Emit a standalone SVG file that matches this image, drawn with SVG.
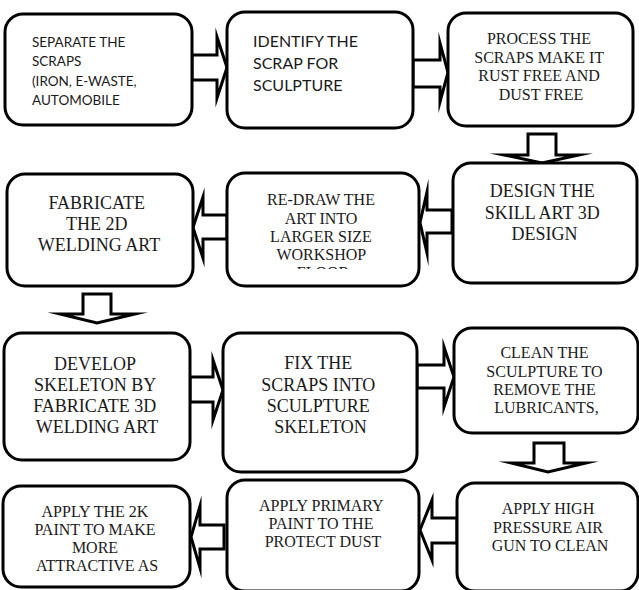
<svg xmlns="http://www.w3.org/2000/svg" width="639" height="590" viewBox="0 0 639 590">
  <style>
    .box { fill: #ffffff; stroke: #000000; stroke-width: 3; }
    .arrow { fill: #ffffff; stroke: #000000; stroke-width: 3; stroke-linejoin: miter; stroke-miterlimit: 20; }
    .sans { font-family: "Lato", "Liberation Sans", sans-serif; fill: #1a1a1a; }
    .serif { font-family: "Liberation Serif", "Times New Roman", serif; fill: #1a1a1a; text-anchor: middle; }
  </style>
  <defs>
    <!-- last line of the re-draw step is cut off by the box -->
    <clipPath id="redrawClip">
      <rect x="227" y="173" width="192" height="96"/>
    </clipPath>
  </defs>

  <rect width="639" height="590" fill="#ffffff"/>

  <!-- block arrows between steps -->
  <g id="connectors">
    <polygon class="arrow" points="192,55 217,55 217,37 227,67.5 217,98 217,80 192,80"/>
    <polygon class="arrow" points="413,60 440,60 440,43 448,72.5 440,102 440,87 413,87"/>
    <polygon class="arrow" points="528,134 556,134 556,155 579,155 542,163 504,155 528,155"/>
    <polygon class="arrow" points="452,210 427,210 427,192 420,222.5 427,253 427,233 452,233"/>
    <polygon class="arrow" points="227,215 203,215 203,197 193,227.5 203,258 203,239 227,239"/>
    <polygon class="arrow" points="83,294 111,294 111,314 135,314 97,323 60,314 83,314"/>
    <polygon class="arrow" points="190,377 213,377 213,360 223,390 213,420 213,402 190,402"/>
    <polygon class="arrow" points="417,365 444,365 444,347 454,377 444,407 444,388 417,388"/>
    <polygon class="arrow" points="534,443 564,443 564,463 586,463 548,472 511,463 534,463"/>
    <polygon class="arrow" points="457,518 432,518 432,500 420,530 432,560 432,543 457,543"/>
    <polygon class="arrow" points="224,525 200,525 200,506 191,537 200,568 200,549 224,549"/>
  </g>

  <g id="separate">
    <rect class="box" x="5" y="14" width="187" height="111" rx="18"/>
    <text class="sans" font-size="13.5">
      <tspan x="32" y="47">SEPARATE THE</tspan>
      <tspan x="32" y="66">SCRAPS</tspan>
      <tspan x="32" y="85.5">(IRON, E-WASTE,</tspan>
      <tspan x="32" y="105">AUTOMOBILE</tspan>
    </text>
  </g>

  <g id="identify">
    <rect class="box" x="227" y="12" width="186" height="116" rx="18"/>
    <text class="sans" font-size="16">
      <tspan x="253" y="47">IDENTIFY THE</tspan>
      <tspan x="253" y="69">SCRAP FOR</tspan>
      <tspan x="253" y="91">SCULPTURE</tspan>
    </text>
  </g>

  <g id="process">
    <rect class="box" x="448" y="13" width="185" height="113" rx="18"/>
    <text class="serif" font-size="16">
      <tspan x="541" y="44">PROCESS THE</tspan>
      <tspan x="541" y="62.5">SCRAPS MAKE IT</tspan>
      <tspan x="541" y="81">RUST FREE AND</tspan>
      <tspan x="541" y="99.5">DUST FREE</tspan>
    </text>
  </g>

  <g id="design">
    <rect class="box" x="453" y="163" width="184" height="120" rx="18"/>
    <text class="serif" font-size="18">
      <tspan x="544.5" y="197">DESIGN THE</tspan>
      <tspan x="544.5" y="218.5">SKILL ART 3D</tspan>
      <tspan x="544.5" y="240">DESIGN</tspan>
    </text>
  </g>

  <g id="redraw">
    <rect class="box" x="227" y="173" width="192" height="113" rx="18"/>
    <text class="serif" font-size="16" clip-path="url(#redrawClip)">
      <tspan x="323" y="205">RE-DRAW THE</tspan>
      <tspan x="323" y="223.5">ART INTO</tspan>
      <tspan x="323" y="242">LARGER SIZE</tspan>
      <tspan x="323" y="260">WORKSHOP</tspan>
      <tspan x="323" y="278">FLOOR</tspan>
    </text>
  </g>

  <g id="fabricate2d">
    <rect class="box" x="7" y="174" width="186" height="112" rx="18"/>
    <text class="serif" font-size="18">
      <tspan x="99" y="209">FABRICATE</tspan>
      <tspan x="99" y="230">THE 2D</tspan>
      <tspan x="99" y="251">WELDING ART</tspan>
    </text>
  </g>

  <g id="develop">
    <rect class="box" x="4" y="333" width="186" height="127" rx="18"/>
    <text class="serif" font-size="18">
      <tspan x="97" y="370">DEVELOP</tspan>
      <tspan x="97" y="391">SKELETON BY</tspan>
      <tspan x="97" y="412">FABRICATE 3D</tspan>
      <tspan x="97" y="433">WELDING ART</tspan>
    </text>
  </g>

  <g id="fix">
    <rect class="box" x="223" y="333" width="194" height="139" rx="18"/>
    <text class="serif" font-size="18">
      <tspan x="320.5" y="369">FIX THE</tspan>
      <tspan x="320.5" y="390.5">SCRAPS INTO</tspan>
      <tspan x="320.5" y="412">SCULPTURE</tspan>
      <tspan x="320.5" y="433">SKELETON</tspan>
    </text>
  </g>

  <g id="clean">
    <rect class="box" x="454" y="328" width="184" height="105" rx="18"/>
    <text class="serif" font-size="16">
      <tspan x="546.5" y="358">CLEAN THE</tspan>
      <tspan x="546.5" y="376.5">SCULPTURE TO</tspan>
      <tspan x="546.5" y="395">REMOVE THE</tspan>
      <tspan x="546.5" y="413">LUBRICANTS,</tspan>
    </text>
  </g>

  <g id="airgun">
    <rect class="box" x="457" y="483" width="181" height="108" rx="18"/>
    <text class="serif" font-size="16">
      <tspan x="550" y="514">APPLY HIGH</tspan>
      <tspan x="550" y="532.5">PRESSURE AIR</tspan>
      <tspan x="550" y="551">GUN TO CLEAN</tspan>
    </text>
  </g>

  <g id="primary">
    <rect class="box" x="227" y="480" width="192" height="111" rx="18"/>
    <text class="serif" font-size="16">
      <tspan x="323" y="511">APPLY PRIMARY</tspan>
      <tspan x="323" y="529">PAINT TO THE</tspan>
      <tspan x="323" y="547">PROTECT DUST</tspan>
    </text>
  </g>

  <g id="paint2k">
    <rect class="box" x="3" y="486" width="187" height="101" rx="18"/>
    <text class="serif" font-size="16">
      <tspan x="97" y="517">APPLY THE 2K</tspan>
      <tspan x="97" y="535">PAINT TO MAKE</tspan>
      <tspan x="97" y="553">MORE</tspan>
      <tspan x="97" y="571">ATTRACTIVE AS</tspan>
    </text>
  </g>
</svg>
